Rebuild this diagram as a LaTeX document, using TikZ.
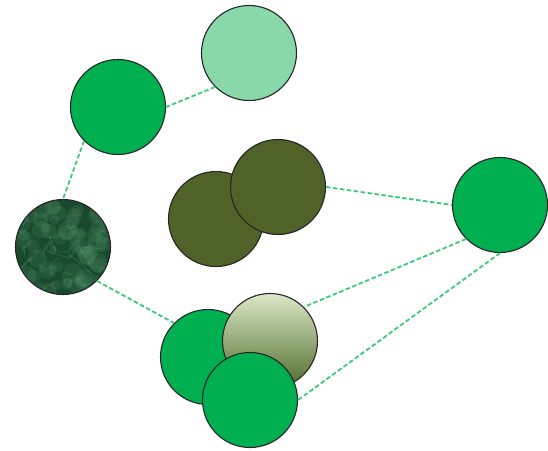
\documentclass[tikz,border=0pt]{standalone}
\usepackage{tikz}
\definecolor{ballgreen}{HTML}{00B050}
\definecolor{palegreen}{HTML}{88D8A9}
\definecolor{olivedark}{HTML}{4F6228}
\definecolor{marbledark}{HTML}{1A4A2E}
\definecolor{marblelight}{HTML}{6FB98B}
\definecolor{shadetop}{HTML}{DCE8C8}
\definecolor{shadebottom}{HTML}{4E6B2A}
\definecolor{linkgreen}{HTML}{3DC97A}
\tikzset{
	ball/.style={circle, draw=black!85, line width=1.1pt, minimum size=95pt, inner sep=0pt},
	link/.style={draw=linkgreen, line width=1.8pt, dash pattern=on 4.5pt off 2.5pt},
	marblespot/.style={fill=marblelight, opacity=0.12},
	marblevein/.style={draw=marblelight, line width=0.8pt, opacity=0.22, line cap=round}
}
\begin{document}
\begin{tikzpicture}[x=1pt, y=-1pt]

	\useasboundingbox (0,0) rectangle (548,450);
	\pgfmathsetseed{11}

	\coordinate (LT) at (249, 53);
	\coordinate (GL) at (118, 107);
	\coordinate (MB) at (63, 247);
	\coordinate (OA) at (216, 219);
	\coordinate (OB) at (278, 187);
	\coordinate (GR) at (500, 205);
	\coordinate (BL) at (208, 357);
	\coordinate (GD) at (270, 341);
	\coordinate (BF) at (250, 400);

	\node[ball, fill=palegreen] (pale) at (LT) {};
	\node[ball, fill=ballgreen] (topgreen) at (GL) {};
	\node[ball, fill=marbledark, path picture={
		\foreach \k in {1,...,70}
			\fill[marblespot] ([shift={(rand*44,rand*44)}]path picture bounding box.center) circle ({4+6*rnd});
		\foreach \k in {1,...,25}
			\draw[marblevein] ([shift={(rand*44,rand*44)}]path picture bounding box.center) .. controls +(rand*12,rand*12) .. +(rand*22,rand*22);
	}] (marble) at (MB) {};

	\node[ball, fill=olivedark] (oliveone) at (OA) {};
	\node[ball, fill=olivedark] (olivetwo) at (OB) {};

	\node[ball, fill=ballgreen] (rightgreen) at (GR) {};

	\node[ball, fill=ballgreen] (lowgreen) at (BL) {};
	\node[ball, top color=shadetop, bottom color=shadebottom] (shaded) at (GD) {};
	\node[ball, fill=ballgreen] (frontgreen) at (BF) {};

	\draw[link] (pale.south west) -- (topgreen.east);
	\draw[link] (topgreen.south west) -- (marble.north);
	\draw[link] (marble.south east) -- (lowgreen.north west);
	\draw[link] (olivetwo.east) -- (rightgreen.west);
	\draw[link] (rightgreen.south west) -- (shaded.north east);
	\draw[link] (rightgreen.south) -- (frontgreen.east);

\end{tikzpicture}
\end{document}
